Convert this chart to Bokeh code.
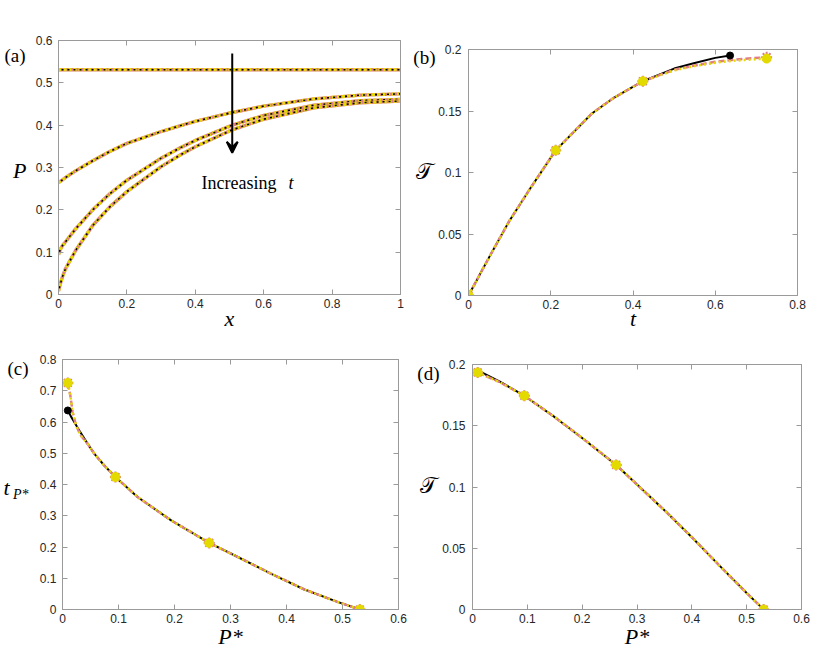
from bokeh.plotting import figure
from bokeh.models import Range1d, Label, LinearAxis, FixedTicker, CustomJSTickFormatter, Arrow, VeeHead
from bokeh.layouts import column, row
from bokeh.embed import file_html
from bokeh.resources import INLINE

# ---------------- data ----------------
# (a) profiles P(x) at increasing t
x_a = [0.0, 0.005, 0.012, 0.02, 0.05, 0.1, 0.15, 0.2, 0.3, 0.357, 0.4, 0.508, 0.6, 0.747, 0.883, 1.0]
x_flat = [0.0, 1.0]
P_t0 = [0.531, 0.531]
P_t1 = [0.264, 0.267, 0.271, 0.276, 0.292, 0.316, 0.338, 0.357, 0.385, 0.399, 0.409, 0.430, 0.445, 0.462, 0.471, 0.474]
P_t2 = [0.094, 0.106, 0.116, 0.124, 0.155, 0.200, 0.238, 0.270, 0.322, 0.347, 0.364, 0.400, 0.423, 0.447, 0.458, 0.461]
P_t3 = [0.008, 0.024, 0.043, 0.060, 0.104, 0.163, 0.207, 0.243, 0.302, 0.330, 0.349, 0.389, 0.414, 0.441, 0.453, 0.457]

# (b) T vs t
t_black = [0.0, 0.05, 0.1, 0.15, 0.212, 0.3, 0.35, 0.424, 0.5, 0.55, 0.6, 0.636]
T_black = [0.0, 0.031, 0.061, 0.087, 0.118, 0.148, 0.160, 0.1742, 0.1845, 0.189, 0.1932, 0.1951]
t_appr = [0.0, 0.05, 0.1, 0.15, 0.212, 0.3, 0.35, 0.424, 0.5, 0.55, 0.6, 0.65, 0.725]
T_pink = [0.0, 0.031, 0.061, 0.087, 0.118, 0.148, 0.160, 0.1742, 0.1835, 0.187, 0.190, 0.1918, 0.1938]
T_yell = [0.0, 0.031, 0.061, 0.087, 0.118, 0.148, 0.160, 0.1742, 0.1830, 0.1865, 0.1893, 0.1910, 0.1926]
t_mark = [0.0, 0.212, 0.424, 0.725]
T_mark_pink = [0.0, 0.118, 0.1742, 0.1938]
T_mark_yell = [0.0, 0.118, 0.1742, 0.1926]

# (c) t_{P*} vs P*
Ps_c_black = [0.0095, 0.015, 0.022, 0.030, 0.045, 0.057, 0.075, 0.0945, 0.134, 0.194, 0.262, 0.313, 0.372, 0.432, 0.491, 0.531]
tP_black = [0.637, 0.618, 0.597, 0.573, 0.530, 0.498, 0.460, 0.424, 0.360, 0.285, 0.213, 0.168, 0.115, 0.064, 0.0245, 0.0]
Ps_c_appr = [0.0095, 0.014, 0.018, 0.024, 0.033, 0.045, 0.057, 0.075, 0.0945, 0.134, 0.194, 0.262, 0.313, 0.372, 0.432, 0.491, 0.531]
tP_appr = [0.725, 0.685, 0.632, 0.590, 0.556, 0.530, 0.498, 0.460, 0.424, 0.360, 0.285, 0.213, 0.168, 0.115, 0.064, 0.0245, 0.0]
Ps_mark = [0.0095, 0.0945, 0.262, 0.531]
tP_mark = [0.725, 0.424, 0.213, 0.0]

# (d) T vs P*
Ps_d = [0.0095, 0.05, 0.0945, 0.15, 0.2, 0.262, 0.3, 0.35, 0.4, 0.45, 0.5, 0.531]
T_d_black = [0.1951, 0.186, 0.1745, 0.157, 0.140, 0.118, 0.102, 0.081, 0.059, 0.036, 0.0135, 0.0]
T_d_appr = [0.1935, 0.1855, 0.1745, 0.157, 0.140, 0.118, 0.102, 0.081, 0.059, 0.036, 0.0135, 0.0]
T_d_mark = [0.1935, 0.1745, 0.118, 0.0]

# ticks
ticks_a_x = [0, 0.2, 0.4, 0.6, 0.8, 1]
ticks_a_y = [0, 0.1, 0.2, 0.3, 0.4, 0.5, 0.6]
ticks_b_x = [0, 0.2, 0.4, 0.6, 0.8]
ticks_b_y = [0, 0.05, 0.1, 0.15, 0.2]
ticks_c_x = [0, 0.1, 0.2, 0.3, 0.4, 0.5, 0.6]
ticks_c_y = [0, 0.1, 0.2, 0.3, 0.4, 0.5, 0.6, 0.7, 0.8]
ticks_d_x = [0, 0.1, 0.2, 0.3, 0.4, 0.5, 0.6]
ticks_d_y = [0, 0.05, 0.1, 0.15, 0.2]

SCRIPT_T = "\U0001D4AF"

# ---------------- style ----------------
BLACK = "#000000"
PINK = "#e07b8a"
YELLOW = "#e3da00"
SERIF = "Liberation Serif"
SANS = "Liberation Sans"
TICKC = "#262626"
BOXC = "#9a9a9a"


def make_fig(frame, origin, size, xr, yr, xt, yt, xlabel, xlabel_standoff, ylab_standoff):
    fx0, fy0, fx1, fy1 = frame
    ox, oy = origin
    w, h = size
    left = fx0 - ox
    top = fy0 - oy
    fw = fx1 - fx0
    fh = fy1 - fy0
    right = w - left - fw
    bottom = h - top - fh
    p = figure(frame_width=fw, frame_height=fh, min_border_left=left, min_border_right=right,
               min_border_top=top, min_border_bottom=bottom,
               x_range=Range1d(*xr), y_range=Range1d(*yr),
               output_backend="svg", toolbar_location=None,
               background_fill_color="white", border_fill_color="white")
    try:
        p.frame_align = False
    except Exception:
        pass
    p.xgrid.visible = False
    p.ygrid.visible = False
    p.outline_line_color = BOXC
    p.outline_line_width = 1
    for ax, tk in ((p.xaxis[0], xt), (p.yaxis[0], yt)):
        ax.ticker = FixedTicker(ticks=tk)
        ax.formatter = CustomJSTickFormatter(code="return String(tick)")
        ax.major_tick_in = 5
        ax.major_tick_out = 0
        ax.minor_tick_in = 0
        ax.minor_tick_out = 0
        ax.major_tick_line_color = BOXC
        ax.axis_line_color = BOXC
        ax.major_label_text_font = SANS
        ax.major_label_text_font_size = "12px"
        ax.major_label_text_color = TICKC
    p.xaxis[0].major_label_standoff = 4
    p.yaxis[0].major_label_standoff = ylab_standoff
    xa = p.xaxis[0]
    xa.axis_label = xlabel
    xa.axis_label_text_font = SERIF
    xa.axis_label_text_font_size = "22px"
    xa.axis_label_text_font_style = "italic"
    xa.axis_label_text_color = BLACK
    xa.axis_label_standoff = xlabel_standoff
    # mirrored ticks on top/right
    for loc, tk in (("above", xt), ("right", yt)):
        ax2 = LinearAxis(ticker=FixedTicker(ticks=tk), major_tick_in=5, major_tick_out=0,
                         minor_tick_in=0, minor_tick_out=0, major_tick_line_color=BOXC,
                         axis_line_color=BOXC, major_label_text_alpha=0,
                         major_label_text_font_size="1px", major_label_standoff=0)
        ax2.formatter = CustomJSTickFormatter(code="return ''")
        p.add_layout(ax2, loc)
    p._frame = frame
    return p


def side_text(p, py, text, size, style, standoff):
    """Text left of the frame, drawn as the single tick label of an extra left axis."""
    fx0, fy0, fx1, fy1 = p._frame
    yr = p.y_range
    y = yr.start + (fy1 - py) / (fy1 - fy0) * (yr.end - yr.start)
    ax = LinearAxis(ticker=FixedTicker(ticks=[y]),
                    formatter=CustomJSTickFormatter(args=dict(s=text), code="return s"),
                    major_tick_in=0, major_tick_out=0, minor_tick_in=0, minor_tick_out=0,
                    major_tick_line_color=None, axis_line_color=None,
                    major_label_standoff=standoff, major_label_text_font=SERIF,
                    major_label_text_font_size=f"{size}px", major_label_text_font_style=style,
                    major_label_text_color=BLACK)
    p.add_layout(ax, "left")


def txt(p, px, py, text, size, style="normal", align="left", baseline="alphabetic"):
    fx0, fy0, fx1, fy1 = p._frame
    xr, yr = p.x_range, p.y_range
    x = xr.start + (px - fx0) / (fx1 - fx0) * (xr.end - xr.start)
    y = yr.start + (fy1 - py) / (fy1 - fy0) * (yr.end - yr.start)
    p.add_layout(Label(x=x, y=y, text=text, text_font=SERIF, text_font_size=f"{size}px",
                       text_font_style=style, text_align=align, text_baseline=baseline,
                       text_color=BLACK))


def triple(p, xb, yb, xp, yp, xy, yy, wide=False):
    if wide:
        p.line(xp, yp, line_color=PINK, line_width=3.4)
        p.line(xy, yy, line_color=YELLOW, line_width=3.2, line_dash="3 2")
        p.line(xb, yb, line_color=BLACK, line_width=1.6, line_dash="2 4", line_dash_offset=3)
    else:
        p.line(xb, yb, line_color=BLACK, line_width=2)
        p.line(xp, yp, line_color=PINK, line_width=2.5, line_dash="6 3")
        p.line(xy, yy, line_color=YELLOW, line_width=2.5, line_dash="2 3")


# ---------------- (a) ----------------
pa = make_fig((58, 40, 400, 294), (0, 0), (408, 335), (0, 1), (0, 0.6), ticks_a_x, ticks_a_y, "x", -5, 6)
triple(pa, x_flat, P_t0, x_flat, P_t0, x_flat, P_t0, wide=True)
for Pc in (P_t1, P_t2, P_t3):
    triple(pa, x_a, Pc, x_a, Pc, x_a, Pc, wide=True)
pa.add_layout(Arrow(end=VeeHead(size=11, line_color=BLACK, fill_color=BLACK, line_width=2),
                    x_start=0.508, y_start=0.569, x_end=0.508, y_end=0.335,
                    line_color=BLACK, line_width=2))
txt(pa, 201, 182, "Increasing", 18)
txt(pa, 288, 182, "t", 18, style="italic")
side_text(pa, 170, "P", 22, "italic", 6)
side_text(pa, 55, "(a)", 19, "normal", -15)

# ---------------- (b) ----------------
pb = make_fig((468, 49, 797, 295), (408, 0), (422, 335), (0, 0.8), (0, 0.2), ticks_b_x, ticks_b_y, "t", -6, 7)
triple(pb, t_black, T_black, t_appr, T_pink, t_appr, T_yell)
pb.scatter(t_mark, T_mark_pink, marker="asterisk", size=11, line_color=PINK, line_width=2)
pb.scatter(t_mark, T_mark_yell, marker="circle", size=9, fill_color=YELLOW, line_color=YELLOW)
pb.scatter(t_black[-1:], T_black[-1:], marker="circle", size=7, fill_color=BLACK, line_color=BLACK)
side_text(pb, 57, "(b)", 19, "normal", 0)
side_text(pb, 171, SCRIPT_T, 22, "normal", -22)

# ---------------- (c) ----------------
pc = make_fig((58, 359, 394, 609), (0, 335), (408, 314), (0, 0.6), (0, 0.8), ticks_c_x, ticks_c_y, "P*", -2, 6)
triple(pc, Ps_c_black, tP_black, Ps_c_appr, tP_appr, Ps_c_appr, tP_appr)
pc.scatter(Ps_mark, tP_mark, marker="asterisk", size=11, line_color=PINK, line_width=2)
pc.scatter(Ps_mark, tP_mark, marker="circle", size=9, fill_color=YELLOW, line_color=YELLOW)
pc.scatter(Ps_c_black[:1], tP_black[:1], marker="circle", size=7, fill_color=BLACK, line_color=BLACK)
side_text(pc, 494, "P*", 14, "italic", 8)
side_text(pc, 368, "(c)", 19, "normal", -19)
side_text(pc, 487, "t", 22, "italic", -5)

# ---------------- (d) ----------------
pd = make_fig((468, 364, 797, 609), (408, 335), (422, 314), (0, 0.6), (0, 0.2), ticks_d_x, ticks_d_y, "P*", -2, 7)
triple(pd, Ps_d, T_d_black, Ps_d, T_d_appr, Ps_d, T_d_appr)
pd.scatter(Ps_mark, T_d_mark, marker="asterisk", size=11, line_color=PINK, line_width=2)
pd.scatter(Ps_mark, T_d_mark, marker="circle", size=9, fill_color=YELLOW, line_color=YELLOW)
side_text(pd, 373, "(d)", 19, "normal", 0)
side_text(pd, 485, SCRIPT_T, 22, "normal", -22)

layout = column(row(pa, pb, spacing=0), row(pc, pd, spacing=0), spacing=0)
open("out.html", "w").write(file_html(layout, INLINE))
